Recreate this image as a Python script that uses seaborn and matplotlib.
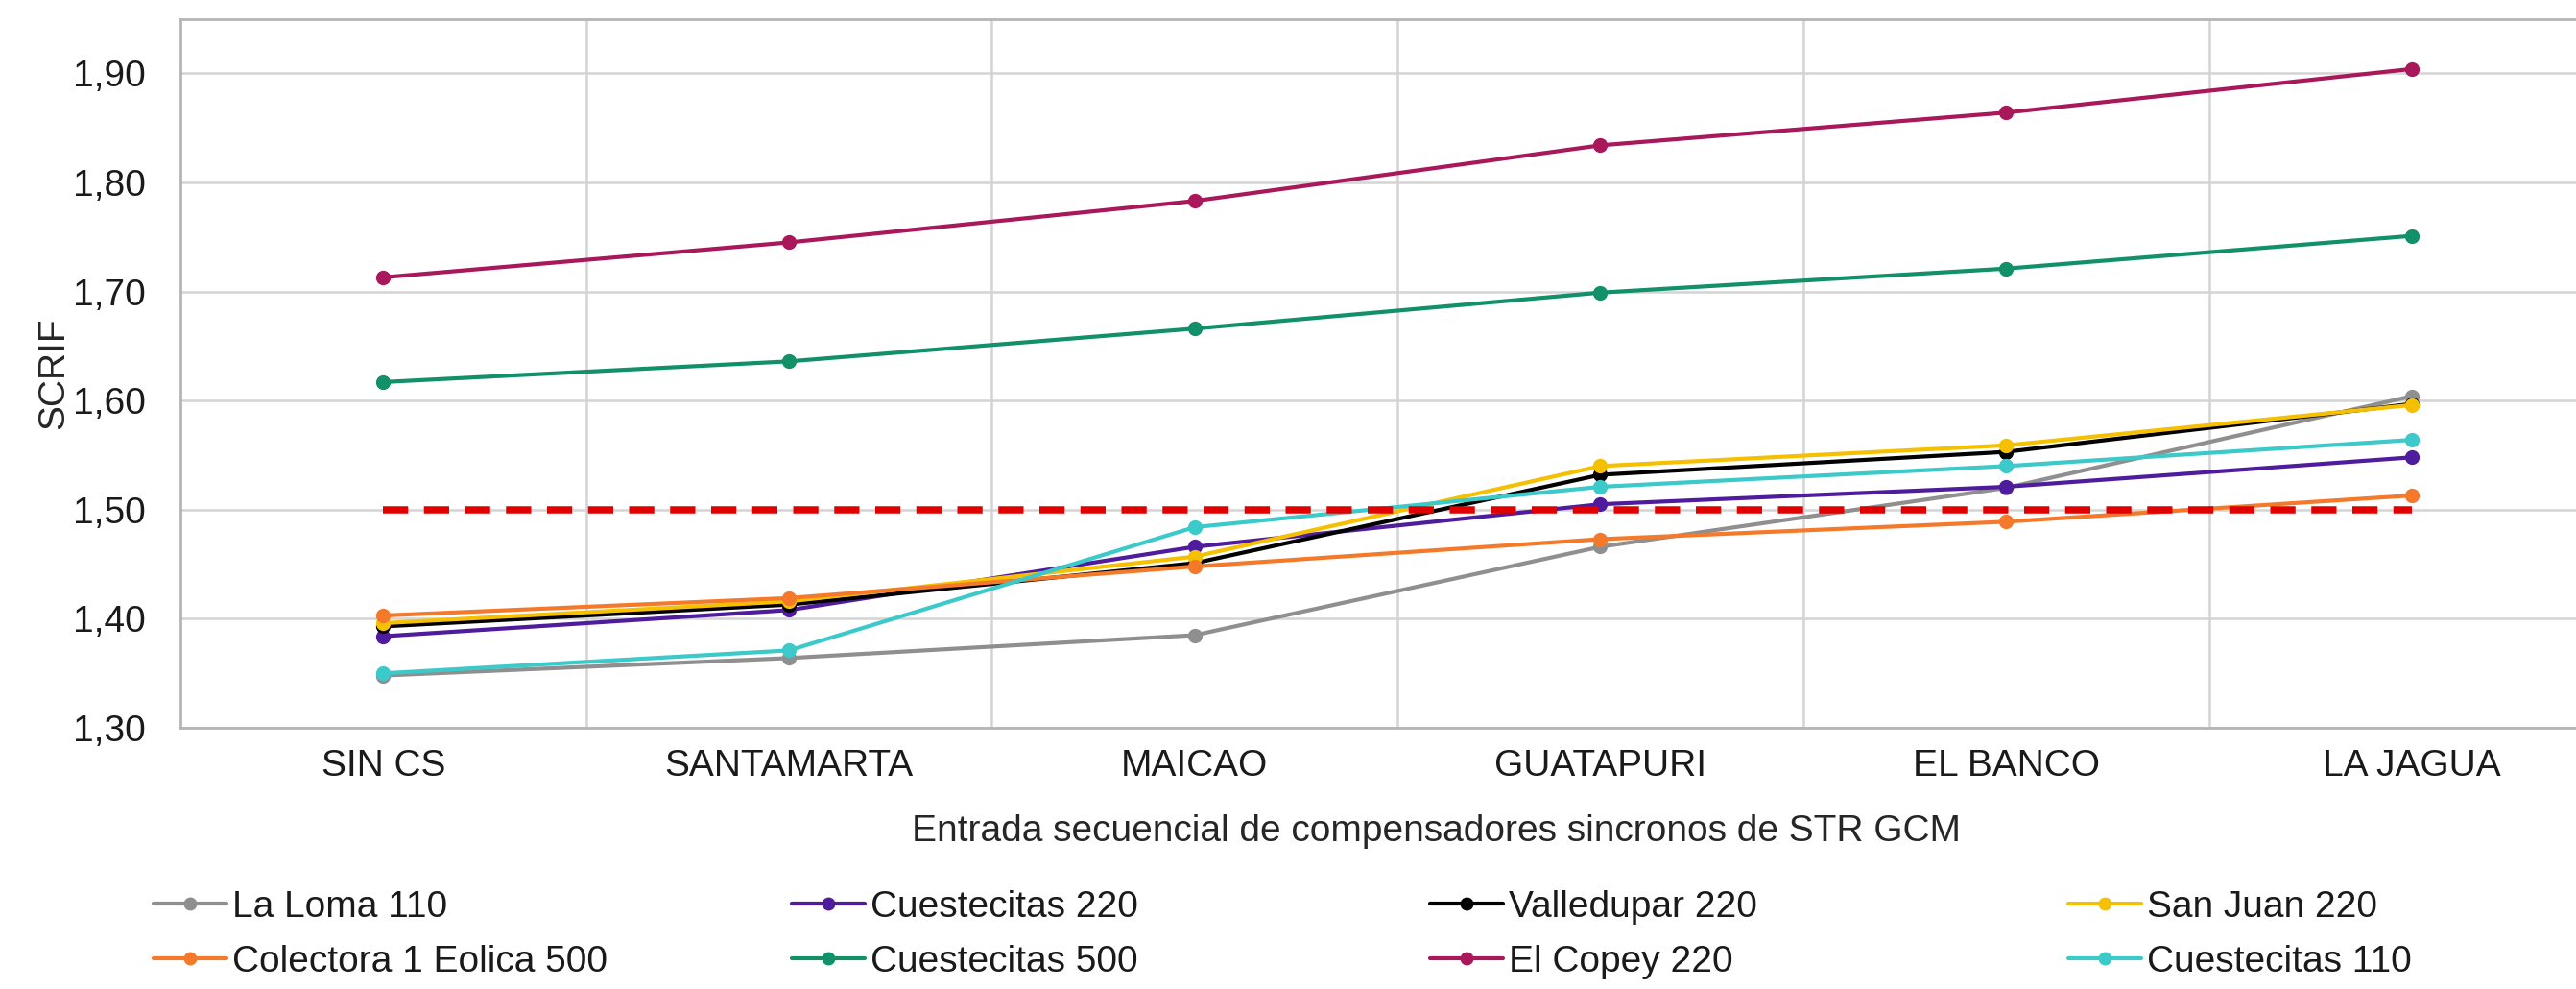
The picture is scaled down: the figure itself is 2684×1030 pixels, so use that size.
import pandas as pd
import matplotlib
matplotlib.use('Agg')
from matplotlib import pyplot as plt
from matplotlib.lines import Line2D
from matplotlib.ticker import FixedLocator, FuncFormatter
import seaborn as sns

# datos
etapas = ['SIN CS', 'SANTAMARTA', 'MAICAO', 'GUATAPURI', 'EL BANCO', 'LA JAGUA']
la_loma_110 = [1.348, 1.364, 1.385, 1.466, 1.520, 1.604]
cuestecitas_220 = [1.384, 1.408, 1.466, 1.505, 1.521, 1.548]
valledupar_220 = [1.393, 1.413, 1.451, 1.532, 1.553, 1.597]
san_juan_220 = [1.396, 1.416, 1.457, 1.540, 1.559, 1.596]
colectora_500 = [1.403, 1.419, 1.448, 1.473, 1.489, 1.513]
cuestecitas_500 = [1.617, 1.636, 1.666, 1.699, 1.721, 1.751]
el_copey_220 = [1.713, 1.745, 1.783, 1.834, 1.864, 1.904]
cuestecitas_110 = [1.350, 1.371, 1.484, 1.521, 1.540, 1.564]
limite = [1.50, 1.50, 1.50, 1.50, 1.50, 1.50]
yticks = [1.30, 1.40, 1.50, 1.60, 1.70, 1.80, 1.90]

series = {
    'La Loma 110': la_loma_110,
    'Cuestecitas 220': cuestecitas_220,
    'Valledupar 220': valledupar_220,
    'San Juan 220': san_juan_220,
    'Colectora 1 Eolica 500': colectora_500,
    'Cuestecitas 500': cuestecitas_500,
    'El Copey 220': el_copey_220,
    'Cuestecitas 110': cuestecitas_110,
}
colores = {
    'La Loma 110': '#8f8f8f',
    'Cuestecitas 220': '#4f1c9e',
    'Valledupar 220': '#000000',
    'San Juan 220': '#f5c000',
    'Colectora 1 Eolica 500': '#f5792a',
    'Cuestecitas 500': '#12906a',
    'El Copey 220': '#a8185a',
    'Cuestecitas 110': '#3cc9c9',
}
orden = list(series.keys())

rows = []
for nombre, valores in series.items():
    for i, v in enumerate(valores):
        rows.append({'pos': i, 'scrif': v, 'barra': nombre})
df = pd.DataFrame(rows)

sns.set_theme(style='white')
plt.rcParams['font.family'] = ['Liberation Sans', 'DejaVu Sans']
plt.rcParams['text.color'] = '#1a1a1a'
plt.rcParams['xtick.color'] = '#1a1a1a'
plt.rcParams['ytick.color'] = '#1a1a1a'

fig = plt.figure(figsize=(13.42, 5.15), dpi=200)
ax = fig.add_axes([0.070, 0.264, 0.945, 0.717])

sns.lineplot(data=df, x='pos', y='scrif', hue='barra', hue_order=orden,
             palette=colores, marker='o', markersize=5.5, markeredgewidth=0,
             linewidth=1.5, errorbar=None, legend=False, ax=ax)
sns.lineplot(x=list(range(len(etapas))), y=limite, color='#e00000',
             linewidth=2.7, linestyle=(0, (3.5, 2.2)), errorbar=None, ax=ax)

ax.set_xlim(-0.5, len(etapas) - 0.5)
ax.set_ylim(1.30, 1.95)
ax.set_xticks(range(len(etapas)))
ax.set_xticklabels(etapas)
ax.xaxis.set_minor_locator(FixedLocator([i + 0.5 for i in range(len(etapas) - 1)]))
ax.set_yticks(yticks)
ax.yaxis.set_major_formatter(FuncFormatter(lambda v, p: f'{v:.2f}'.replace('.', ',')))
ax.grid(axis='y', which='major', color='#d4d4d4', linewidth=0.9)
ax.grid(axis='x', which='minor', color='#d4d4d4', linewidth=0.9)
ax.tick_params(axis='both', which='both', length=0, labelsize=14)
ax.tick_params(axis='x', pad=8)
ax.tick_params(axis='y', pad=13)

for lado in ['top', 'left', 'bottom']:
    ax.spines[lado].set_color('#b5b5b5')
    ax.spines[lado].set_linewidth(1.0)
ax.spines['right'].set_visible(False)

ax.set_xlabel('Entrada secuencial de compensadores sincronos de STR GCM', fontsize=14)
ax.xaxis.label.set_va('center')
ax.xaxis.set_label_coords(0.516, -0.146)
ax.set_ylabel('SCRIF', fontsize=14)
ax.yaxis.label.set_va('center')
ax.yaxis.set_label_coords(-0.052, 0.5)

# leyenda en 4 columnas de ancho fijo (como en Excel)
columnas = [
    ['La Loma 110', 'Colectora 1 Eolica 500'],
    ['Cuestecitas 220', 'Cuestecitas 500'],
    ['Valledupar 220', 'El Copey 220'],
    ['San Juan 220', 'Cuestecitas 110'],
]
x_col = [160, 825, 1490, 2155]
for xc, nombres in zip(x_col, columnas):
    handles = [Line2D([], [], color=colores[n], marker='o', markersize=5,
                      markeredgewidth=0, linewidth=1.5) for n in nombres]
    fig.legend(handles, nombres, loc='center left',
               bbox_to_anchor=(xc / 2684, 0.055), frameon=False,
               fontsize=14, borderpad=0, handlelength=1.95,
               handletextpad=0.15, labelspacing=0.55, borderaxespad=0)

fig.savefig('out.png', dpi=200)
